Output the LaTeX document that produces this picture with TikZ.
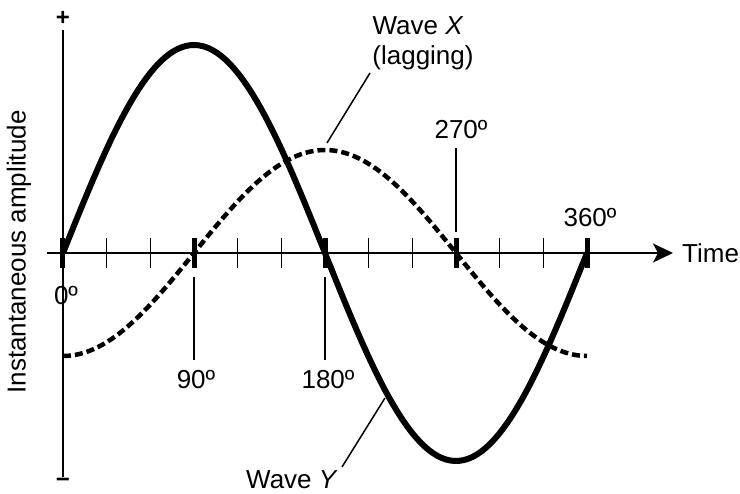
\documentclass[tikz,border=0pt]{standalone}
\usepackage{fontspec}
\setmainfont{Liberation Sans}
\usetikzlibrary{arrows.meta, positioning}

\begin{document}
\begin{tikzpicture}[
  x=1pt, y=1pt,
  lbl/.style={font=\fontsize{26}{30}\selectfont, inner sep=0pt},
  sign/.style={font=\fontsize{24}{26}\selectfont, inner sep=0pt},
  axisline/.style={line width=2pt},
  minortick/.style={line width=1.4pt},
  majortick/.style={line width=5pt},
  leader/.style={line width=1.5pt},
  >={Stealth[length=20pt, width=19pt, inset=5pt]}
]
  \useasboundingbox (-63,-241) rectangle (677,253);

  % Axes
  \coordinate (vtop) at (0,223);
  \coordinate (vbot) at (0,-224);
  \coordinate (hleft) at (-16,0);
  \coordinate (hright) at (610,0);
  \draw[axisline] (vbot) -- (vtop);
  \draw[axisline, ->] (hleft) -- (hright);
  \node[sign] (plus) at (0,235) {\textbf{+}};
  \node[sign] (minus) at (0,-230) {\textbf{−}};
  \node[lbl, anchor=west] (time) at (619,0) {Time};
  \node[lbl, rotate=90] (amp) at (-44,1) {Instantaneous amplitude};

  % Ticks
  \foreach \i in {1,2,4,5,7,8,10,11} {
    \draw[minortick] (\i*524/12, 15) -- (\i*524/12, -15);
  }
  \foreach \i in {0,...,4} {
    \draw[majortick] (\i*131, 15) -- (\i*131, -15);
  }

  % Waves
  \draw[line width=4.5pt, dash pattern=on 8pt off 4pt]
    plot[domain=0:360, samples=120] ({\x/360*524}, {-103*cos(\x)});
  \draw[line width=6pt, line join=round]
    plot[domain=0:360, samples=120] ({\x/360*524}, {208*sin(\x)});

  % Degree labels
  \node[lbl] (deg0) at (3,-43) {0º};
  \node[lbl] (deg90) at (133,-127) {90º};
  \node[lbl] (deg180) at (265,-127) {180º};
  \node[lbl] (deg270) at (398,123) {270º};
  \node[lbl] (deg360) at (527,35) {360º};
  \coordinate (l90a) at (131,-24);  \coordinate (l90b) at (131,-107);
  \coordinate (l180a) at (262,-24); \coordinate (l180b) at (262,-107);
  \coordinate (l270a) at (393,105); \coordinate (l270b) at (393,21);
  \draw[leader] (l90a) -- (l90b);
  \draw[leader] (l180a) -- (l180b);
  \draw[leader] (l270a) -- (l270b);

  % Wave labels
  \node[lbl, anchor=base] (wavex) at (355,218) {Wave \textit{X}};
  \node[lbl, anchor=base] (lagging) at (360,188) {(lagging)};
  \node[lbl] (wavey) at (229,-227) {Wave \textit{Y}};
  \coordinate (lxa) at (307,180); \coordinate (lxb) at (264,110);
  \coordinate (lya) at (279,-214); \coordinate (lyb) at (322,-145);
  \draw[leader] (lxa) -- (lxb);
  \draw[leader] (lya) -- (lyb);
\end{tikzpicture}
\end{document}
